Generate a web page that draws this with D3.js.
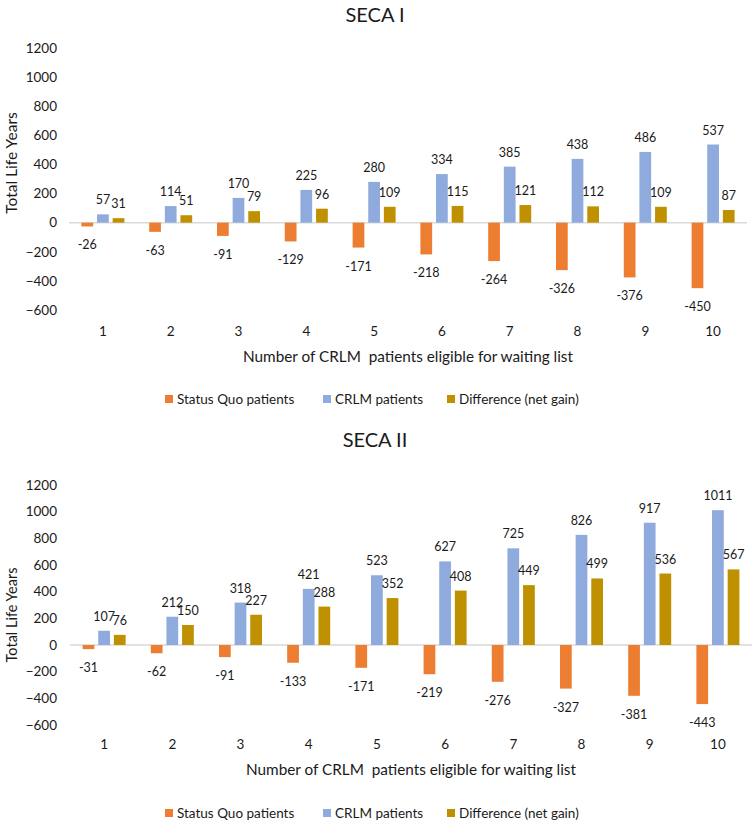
<!DOCTYPE html>
<html>
<head>
<meta charset="utf-8">
<script src="https://cdn.jsdelivr.net/npm/d3@7/dist/d3.min.js"></script>
<style>
  html, body { margin: 0; padding: 0; background: #fff; }
  text { font-family: Lato, "Open Sans", sans-serif; fill: #1a1a1a; }
</style>
</head>
<body>
<svg id="chart" width="755" height="827"></svg>
<script>
const categories = ["1","2","3","4","5","6","7","8","9","10"];
const seriesNames = ["Status Quo patients", "CRLM patients", "Difference (net gain)"];
const seriesColors = ["#ED7D31", "#8FAADC", "#BF9000"];
const yTicks = [-600, -400, -200, 0, 200, 400, 600, 800, 1000, 1200];

const secaI_statusQuo = [-26, -63, -91, -129, -171, -218, -264, -326, -376, -450];
const secaI_crlm      = [57, 114, 170, 225, 280, 334, 385, 438, 486, 537];
const secaI_diff      = [31, 51, 79, 96, 109, 115, 121, 112, 109, 87];

const secaII_statusQuo = [-31, -62, -91, -133, -171, -219, -276, -327, -381, -443];
const secaII_crlm      = [107, 212, 318, 421, 523, 627, 725, 826, 917, 1011];
const secaII_diff      = [76, 150, 227, 288, 352, 408, 449, 499, 536, 567];

const svg = d3.select("#chart");

function drawChart(opt) {
  const g = svg.append("g");
  const series = [opt.sq, opt.crlm, opt.diff];
  const x = d3.scaleBand().domain(categories).range([opt.x0, opt.x1]);
  const xs = d3.scaleBand().domain(d3.range(3)).range([-21.5, 21.5]).paddingInner(0.25);
  const y = d3.scaleLinear().domain([-600, 1200]).range([opt.yBottom, opt.yTop]);

  // title
  g.append("text").attr("x", opt.titleX).attr("y", opt.titleY)
    .attr("text-anchor", "middle").style("font-size", "20px").text(opt.title);

  // y axis (labels only)
  const yAxis = d3.axisLeft(y).tickValues(yTicks).tickFormat(d3.format("d")).tickSize(0).tickPadding(0);
  const ya = g.append("g").attr("transform", `translate(57,0)`).call(yAxis);
  ya.select(".domain").remove();
  ya.selectAll("text").style("font-size", "13.5px").style("font-family", "Lato, sans-serif").attr("fill", "#1a1a1a");

  // zero line
  g.append("line").attr("x1", opt.x0).attr("x2", opt.x1)
    .attr("y1", y(0)).attr("y2", y(0)).attr("stroke", "#D9D9D9").attr("stroke-width", 1.5);

  // bars
  series.forEach((vals, si) => {
    const sg = g.append("g");
    sg.selectAll("rect").data(vals).join("rect")
      .attr("x", (d, i) => x(categories[i]) + x.bandwidth() / 2 + xs(si))
      .attr("width", xs.bandwidth())
      .attr("y", d => Math.min(y(d), y(0)))
      .attr("height", d => Math.abs(y(d) - y(0)))
      .attr("fill", seriesColors[si]);
    sg.selectAll("text").data(vals).join("text")
      .attr("x", (d, i) => x(categories[i]) + x.bandwidth() / 2 + xs(si) + xs.bandwidth() / 2)
      .attr("y", d => d >= 0 ? y(d) - 10 : y(d) + 23)
      .attr("text-anchor", "middle")
      .style("font-size", "12.5px")
      .text(d => d);
  });

  // x category labels
  const xAxis = d3.axisBottom(x).tickSize(0).tickPadding(0);
  const xa = g.append("g").attr("transform", `translate(0,${opt.xLabelY})`).call(xAxis);
  xa.select(".domain").remove();
  xa.selectAll("text").style("font-size", "13.5px").style("font-family", "Lato, sans-serif").attr("fill", "#1a1a1a");

  // x axis title
  g.append("text").attr("x", (opt.x0 + opt.x1) / 2).attr("y", opt.xTitleY)
    .attr("text-anchor", "middle").style("font-size", "15.3px").style("white-space", "pre")
    .text("Number of CRLM  patients eligible for waiting list");

  // y axis title
  g.append("text").attr("transform", `translate(${opt.yTitleX},${opt.yTitleY}) rotate(-90)`)
    .attr("text-anchor", "middle").style("font-size", opt.yTitleSize)
    .text("Total Life Years");

  // legend
  const legX = [165, 323, 447];
  seriesNames.forEach((name, si) => {
    g.append("rect").attr("x", legX[si]).attr("y", opt.legendY - 4)
      .attr("width", 8).attr("height", 8).attr("fill", seriesColors[si]);
    g.append("text").attr("x", legX[si] + 12).attr("y", opt.legendY + 5)
      .style("font-size", "13.5px").text(name);
  });
}

drawChart({
  title: "SECA I", titleX: 375, titleY: 22,
  sq: secaI_statusQuo, crlm: secaI_crlm, diff: secaI_diff,
  x0: 69, x1: 747, yTop: 48, yBottom: 310,
  xLabelY: 326, xTitleY: 362, yTitleX: 17, yTitleY: 163, yTitleSize: "15.5px",
  legendY: 399
});

drawChart({
  title: "SECA II", titleX: 375, titleY: 447,
  sq: secaII_statusQuo, crlm: secaII_crlm, diff: secaII_diff,
  x0: 70, x1: 752, yTop: 485, yBottom: 725,
  xLabelY: 739, xTitleY: 775, yTitleX: 17, yTitleY: 615, yTitleSize: "14.5px",
  legendY: 813
});
</script>
</body>
</html>
